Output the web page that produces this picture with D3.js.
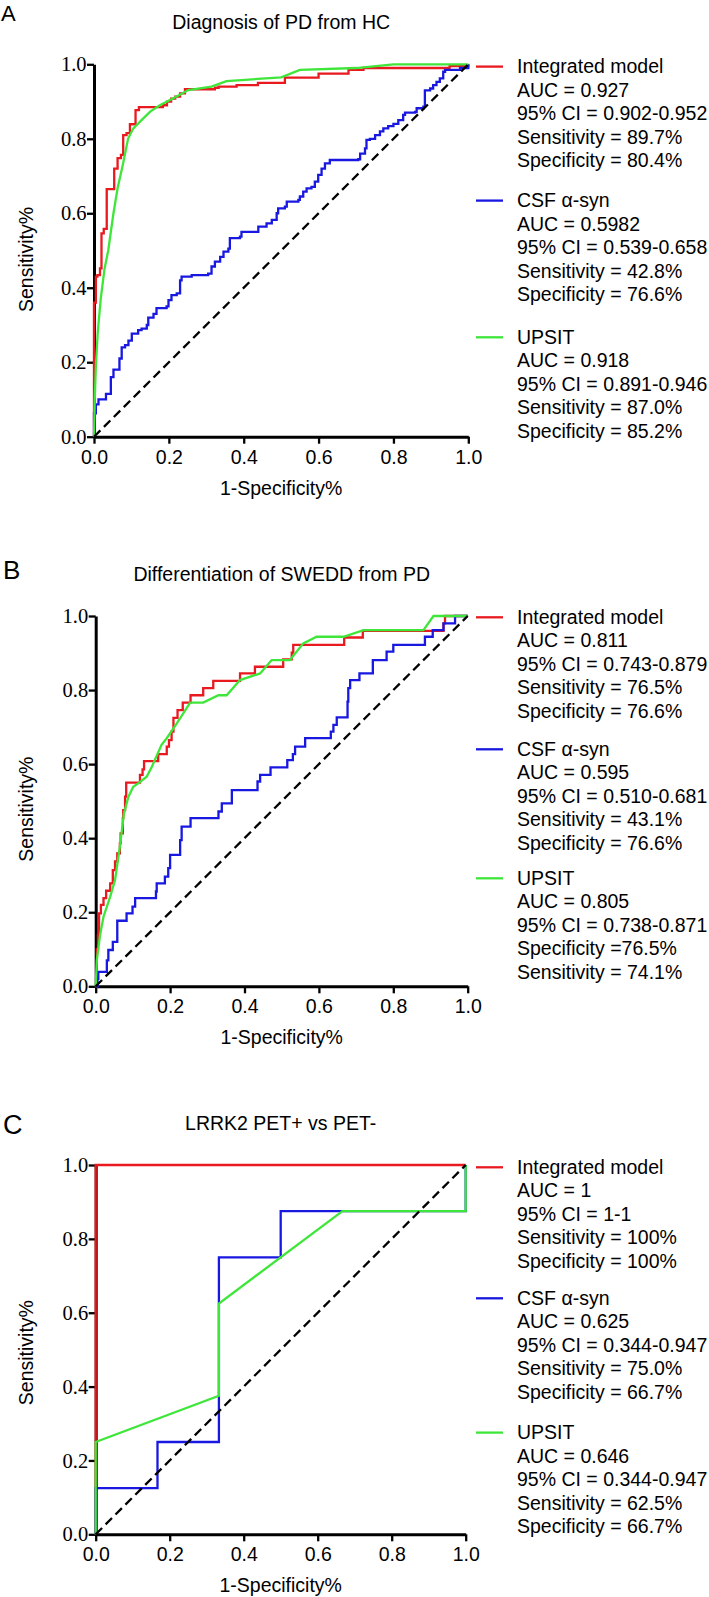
<!DOCTYPE html>
<html>
<head>
<meta charset="utf-8">
<script src="https://cdn.jsdelivr.net/npm/d3@7"></script>
<style>
  html, body { margin: 0; padding: 0; background: #fff; }
  svg { display: block; }
</style>
</head>
<body>
<svg id="chart" width="709" height="1597"></svg>
<script>
// ---------------- DATA ----------------
const xTicks = [0, 0.2, 0.4, 0.6, 0.8, 1.0];
const yTicks = [0, 0.2, 0.4, 0.6, 0.8, 1.0];
const panelLetters = ["A", "B", "C"];
const panelTitles = ["Diagnosis of PD from HC", "Differentiation of SWEDD from PD", "LRRK2 PET+ vs PET-"];
const seriesNames = ["Integrated model", "CSF \u03b1-syn", "UPSIT"];
const seriesColors = ["#e8191f", "#1818e0", "#3fe63a"];
const xLabel = "1-Specificity%";
const yLabel = "Sensitivity%";

// Panel A: [1-specificity, sensitivity]
const rocA_integrated = [[0,0],[0,0.36],[0.005,0.43],[0.009,0.434],[0.016,0.452],[0.02,0.546],[0.026,0.558],[0.034,0.665],[0.054,0.72],[0.063,0.748],[0.072,0.757],[0.078,0.81],[0.087,0.815],[0.096,0.839],[0.111,0.877],[0.12,0.885],[0.184,0.89],[0.195,0.9],[0.206,0.908],[0.217,0.913],[0.23,0.922],[0.243,0.933],[0.323,0.937],[0.333,0.94],[0.381,0.944],[0.438,0.95],[0.51,0.964],[0.6,0.975],[0.68,0.985],[0.72,0.99],[0.85,0.99],[0.95,0.995],[1,1]];
const rocA_csf = [[0,0],[0,0.063],[0.005,0.087],[0.012,0.1],[0.032,0.1],[0.032,0.115],[0.043,0.115],[0.045,0.134],[0.045,0.16],[0.052,0.16],[0.052,0.18],[0.061,0.18],[0.068,0.21],[0.074,0.24],[0.083,0.246],[0.092,0.258],[0.101,0.277],[0.118,0.286],[0.127,0.29],[0.141,0.3],[0.145,0.32],[0.159,0.33],[0.167,0.345],[0.194,0.35],[0.199,0.367],[0.207,0.38],[0.221,0.385],[0.23,0.42],[0.234,0.43],[0.261,0.434],[0.305,0.438],[0.314,0.457],[0.323,0.47],[0.337,0.483],[0.346,0.497],[0.359,0.505],[0.363,0.533],[0.39,0.537],[0.394,0.55],[0.435,0.55],[0.439,0.564],[0.457,0.564],[0.461,0.573],[0.475,0.582],[0.488,0.6],[0.492,0.613],[0.51,0.618],[0.515,0.631],[0.546,0.636],[0.55,0.645],[0.559,0.658],[0.568,0.667],[0.581,0.671],[0.59,0.685],[0.599,0.703],[0.608,0.72],[0.617,0.734],[0.63,0.743],[0.706,0.745],[0.711,0.76],[0.724,0.774],[0.728,0.797],[0.737,0.8],[0.751,0.81],[0.764,0.82],[0.773,0.828],[0.786,0.834],[0.8,0.84],[0.813,0.85],[0.826,0.864],[0.831,0.87],[0.858,0.872],[0.862,0.882],[0.88,0.886],[0.884,0.93],[0.898,0.935],[0.906,0.944],[0.915,0.953],[0.924,0.962],[0.933,0.98],[0.938,0.985],[0.978,0.99],[1,1]];
const rocA_upsit = [[0,0],[0.002,0.1],[0.005,0.19],[0.01,0.28],[0.018,0.37],[0.028,0.45],[0.038,0.5],[0.052,0.6],[0.063,0.667],[0.077,0.73],[0.091,0.8],[0.105,0.828],[0.127,0.85],[0.15,0.873],[0.176,0.89],[0.212,0.909],[0.252,0.931],[0.314,0.94],[0.354,0.955],[0.5,0.965],[0.55,0.985],[0.7,0.99],[0.8,1.0],[1,1]];

// Panel B
const rocB_integrated = [[0,0],[0.003,0.1],[0.006,0.138],[0.009,0.197],[0.014,0.22],[0.021,0.238],[0.028,0.258],[0.039,0.278],[0.046,0.314],[0.052,0.337],[0.058,0.359],[0.065,0.386],[0.067,0.413],[0.073,0.454],[0.074,0.476],[0.079,0.512],[0.082,0.55],[0.119,0.571],[0.126,0.586],[0.13,0.608],[0.168,0.627],[0.191,0.647],[0.197,0.665],[0.204,0.688],[0.209,0.725],[0.22,0.746],[0.234,0.766],[0.255,0.786],[0.289,0.805],[0.316,0.825],[0.388,0.845],[0.428,0.863],[0.504,0.883],[0.527,0.901],[0.531,0.922],[0.668,0.942],[0.718,0.96],[0.935,0.98],[0.939,1.0],[1,1]];
const rocB_csf = [[0,0],[0.005,0.02],[0.007,0.039],[0.03,0.07],[0.034,0.098],[0.046,0.12],[0.058,0.177],[0.083,0.197],[0.099,0.215],[0.106,0.238],[0.162,0.256],[0.164,0.278],[0.186,0.296],[0.195,0.319],[0.2,0.355],[0.227,0.395],[0.231,0.431],[0.255,0.454],[0.33,0.472],[0.339,0.494],[0.366,0.53],[0.435,0.553],[0.442,0.571],[0.47,0.591],[0.515,0.611],[0.53,0.627],[0.536,0.647],[0.563,0.67],[0.632,0.688],[0.639,0.706],[0.648,0.726],[0.677,0.769],[0.679,0.805],[0.684,0.827],[0.709,0.845],[0.745,0.881],[0.782,0.904],[0.8,0.922],[0.885,0.944],[0.906,0.962],[0.935,0.98],[0.966,1.0],[1,1]];
const rocB_upsit = [[0,0],[0.003,0.07],[0.012,0.14],[0.021,0.188],[0.039,0.242],[0.052,0.287],[0.065,0.377],[0.076,0.467],[0.088,0.512],[0.101,0.539],[0.117,0.55],[0.137,0.566],[0.151,0.593],[0.177,0.652],[0.191,0.67],[0.218,0.71],[0.254,0.766],[0.289,0.766],[0.33,0.786],[0.352,0.786],[0.388,0.827],[0.442,0.845],[0.473,0.881],[0.522,0.881],[0.558,0.926],[0.594,0.944],[0.666,0.944],[0.72,0.962],[0.881,0.962],[0.908,1.0],[1,1]];

// Panel C
const rocC_integrated = [[0,0],[0,1],[1,1]];
const rocC_csf = [[0,0],[0,0.125],[0.167,0.125],[0.167,0.25],[0.333,0.25],[0.333,0.75],[0.5,0.75],[0.5,0.875],[1,0.875],[1,1]];
const rocC_upsit = [[0,0],[0,0.25],[0.333,0.375],[0.333,0.625],[0.667,0.875],[1,0.875],[1,1]];

// Legend statistics
const legendA_integrated = ["AUC = 0.927", "95% CI = 0.902-0.952", "Sensitivity = 89.7%", "Specificity = 80.4%"];
const legendA_csf = ["AUC = 0.5982", "95% CI = 0.539-0.658", "Sensitivity = 42.8%", "Specificity = 76.6%"];
const legendA_upsit = ["AUC = 0.918", "95% CI = 0.891-0.946", "Sensitivity = 87.0%", "Specificity = 85.2%"];
const legendB_integrated = ["AUC = 0.811", "95% CI = 0.743-0.879", "Sensitivity = 76.5%", "Specificity = 76.6%"];
const legendB_csf = ["AUC = 0.595", "95% CI = 0.510-0.681", "Sensitivity = 43.1%", "Specificity = 76.6%"];
const legendB_upsit = ["AUC = 0.805", "95% CI = 0.738-0.871", "Specificity =76.5%", "Sensitivity = 74.1%"];
const legendC_integrated = ["AUC = 1", "95% CI = 1-1", "Sensitivity = 100%", "Specificity = 100%"];
const legendC_csf = ["AUC = 0.625", "95% CI = 0.344-0.947", "Sensitivity = 75.0%", "Specificity = 66.7%"];
const legendC_upsit = ["AUC = 0.646", "95% CI = 0.344-0.947", "Sensitivity = 62.5%", "Specificity = 66.7%"];

// ---------------- LAYOUT ----------------
const layout = [
  {left: 94,   right: 468.3, top: 64.3, bottom: 436.7,  letterY: 21,   letterSize: 22, ylabOff: 9, legendOff: [9, 143, 279.7]},
  {left: 95.7, right: 467.7, top: 616,  bottom: 986.3,  letterY: 579,  letterSize: 26, ylabOff: 8, legendOff: [8, 140, 269]},
  {left: 95.7, right: 465.7, top: 1165, bottom: 1534.3, letterY: 1134, letterSize: 27, ylabOff: 3, legendOff: [9, 140, 274.3]}
];
const panelData = [
  {series: [rocA_integrated, rocA_csf, rocA_upsit], curves: ["step", "step", "linear"], legend: [legendA_integrated, legendA_csf, legendA_upsit]},
  {series: [rocB_integrated, rocB_csf, rocB_upsit], curves: ["step", "step", "linear"], legend: [legendB_integrated, legendB_csf, legendB_upsit]},
  {series: [rocC_integrated, rocC_csf, rocC_upsit], curves: ["linear", "linear", "linear"], legend: [legendC_integrated, legendC_csf, legendC_upsit]}
];

const SANS = "'Liberation Sans', Arial, Helvetica, sans-serif";
const SERIF = "'Liberation Serif', 'Times New Roman', serif";
const FS = 19.5;

const svg = d3.select("#chart");
svg.append("rect").attr("width", 709).attr("height", 1597).attr("fill", "#fff");

panelData.forEach((pd, i) => {
  const L = layout[i];
  const g = svg.append("g");
  const x = d3.scaleLinear().domain([0, 1]).range([L.left, L.right]);
  const y = d3.scaleLinear().domain([0, 1]).range([L.bottom, L.top]);
  const cx = (L.left + L.right) / 2;
  const cy = (L.top + L.bottom) / 2;

  // panel letter
  g.append("text").attr("x", i === 0 ? 1 : 3).attr("y", L.letterY)
    .attr("font-family", SANS).attr("font-size", L.letterSize).attr("fill", "#000")
    .text(panelLetters[i]);

  // title
  g.append("text").attr("x", cx).attr("y", L.top - 35).attr("text-anchor", "middle")
    .attr("font-family", SANS).attr("font-size", FS).attr("fill", "#000")
    .text(panelTitles[i]);

  // axes
  const xAxis = g.append("g").attr("transform", `translate(0,${L.bottom})`)
    .call(d3.axisBottom(x).tickValues(xTicks).tickSize(7).tickSizeOuter(0).tickPadding(6).tickFormat(d3.format(".1f")));
  xAxis.select(".domain").attr("stroke", "#000").attr("stroke-width", 3);
  xAxis.selectAll(".tick line").attr("stroke", "#000").attr("stroke-width", 2.3);
  xAxis.selectAll(".tick text").attr("font-family", SANS).attr("font-size", FS).attr("fill", "#000");

  const yAxis = g.append("g").attr("transform", `translate(${L.left},0)`)
    .call(d3.axisLeft(y).tickValues(yTicks).tickSize(7).tickSizeOuter(0).tickPadding(0.5).tickFormat(d3.format(".1f")));
  yAxis.select(".domain").attr("stroke", "#000").attr("stroke-width", 3);
  yAxis.selectAll(".tick line").attr("stroke", "#000").attr("stroke-width", 2.3);
  yAxis.selectAll(".tick text").attr("font-family", SERIF).attr("font-size", 20.5).attr("fill", "#000");

  // axis titles
  g.append("text").attr("x", cx).attr("y", L.bottom + 58).attr("text-anchor", "middle")
    .attr("font-family", SANS).attr("font-size", FS).attr("fill", "#000").text(xLabel);
  g.append("text").attr("transform", `translate(33,${cy + L.ylabOff}) rotate(-90)`)
    .attr("text-anchor", "middle")
    .attr("font-family", SANS).attr("font-size", FS).attr("fill", "#000").text(yLabel);

  // curves
  pd.series.forEach((data, s) => {
    const line = d3.line().x(d => x(d[0])).y(d => y(d[1]))
      .curve(pd.curves[s] === "step" ? d3.curveStepAfter : d3.curveLinear);
    g.append("path").datum(data).attr("d", line)
      .attr("fill", "none").attr("stroke", seriesColors[s]).attr("stroke-width", 2.3)
      .attr("stroke-linejoin", "miter");
  });

  // reference diagonal
  g.append("path").datum([[0, 0], [1, 1]])
    .attr("d", d3.line().x(d => x(d[0])).y(d => y(d[1])))
    .attr("fill", "none").attr("stroke", "#000").attr("stroke-width", 2.3)
    .attr("stroke-dasharray", "9,5");

  // legend
  seriesNames.forEach((name, s) => {
    const base = L.top + L.legendOff[s];
    g.append("line").attr("x1", 476).attr("x2", 503).attr("y1", base - 6.7).attr("y2", base - 6.7)
      .attr("stroke", seriesColors[s]).attr("stroke-width", 2.3);
    const lines = [name].concat(pd.legend[s]);
    lines.forEach((t, k) => {
      g.append("text").attr("x", 517).attr("y", base + k * 23.4)
        .attr("font-family", SANS).attr("font-size", FS).attr("fill", "#000").text(t);
    });
  });
});
</script>
</body>
</html>
